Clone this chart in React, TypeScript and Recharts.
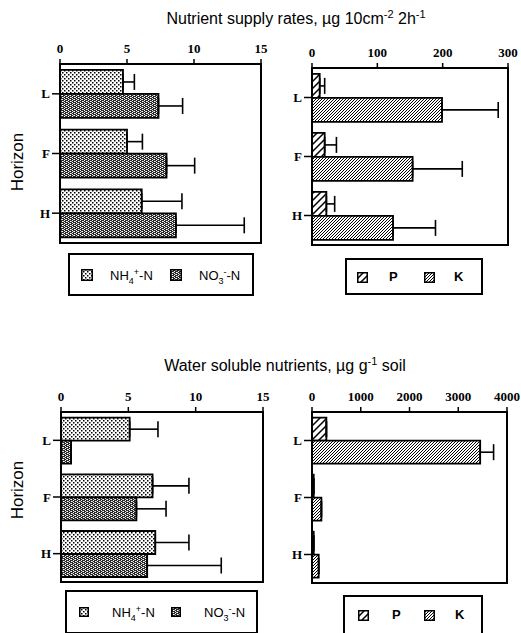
import React from "react";
import { BarChart, Bar, XAxis, YAxis, ErrorBar, ReferenceArea } from "recharts";

const horizons = ["L", "F", "H"];

// nutrient supply rates, ug 10cm-2 2h-1 (error = upper whisker length)
const supplyNH4 = [4.7, 5.0, 6.1];
const supplyNH4Err = [0.85, 1.15, 3.0];
const supplyNO3 = [7.35, 7.95, 8.65];
const supplyNO3Err = [1.8, 2.1, 5.1];
const supplyP = [11.8, 19.4, 22];
const supplyPErr = [7.6, 18, 12.7];
const supplyK = [199, 154, 124];
const supplyKErr = [86, 76, 65];

// water soluble nutrients, ug g-1 soil
const solubleNH4 = [5.1, 6.8, 7.0];
const solubleNH4Err = [2.1, 2.7, 2.5];
const solubleNO3 = [0.75, 5.6, 6.4];
const solubleNO3Err = [0, 2.2, 5.5];
const solubleP = [295, 35, 35];
const solublePErr = [0, 0, 0];
const solubleK = [3450, 193, 137];
const solubleKErr = [275, 0, 0];

const nTicks = [0, 5, 10, 15];
const supplyPKTicks = [0, 100, 200, 300];
const solublePKTicks = [0, 1000, 2000, 3000, 4000];

const makeRows = (a: number[], aErr: number[], b: number[], bErr: number[]) =>
  horizons.map((h, i) => ({
    horizon: h,
    a: a[i],
    aErr: [0, aErr[i]],
    b: b[i],
    bErr: [0, bErr[i]],
  }));

const tickFont = { fontFamily: "Liberation Serif", fontWeight: 700, fontSize: 13, fill: "#000" };

function Panel({ rows, ticks, fills, rect }: any) {
  const yw = 40;
  const xh = 30;
  const rp = 22;
  const w = rect.w + yw + rp;
  const h = rect.h + xh + 4;
  const max = ticks[ticks.length - 1];
  return (
    <div style={{ position: "absolute", left: rect.x - yw, top: rect.y - xh }}>
      <BarChart
        layout="vertical"
        data={rows}
        width={w}
        height={h}
        margin={{ top: 0, left: 0, right: rp, bottom: 4 }}
        barCategoryGap="10%"
        barGap={0}
      >
        <XAxis
          type="number"
          orientation="top"
          domain={[0, max]}
          ticks={ticks}
          interval={0}
          height={xh}
          tickSize={5}
          tickMargin={6}
          tick={tickFont}
          axisLine={{ stroke: "#000", strokeWidth: 2 }}
          tickLine={{ stroke: "#000", strokeWidth: 1.5 }}
          allowDataOverflow
        />
        <YAxis
          type="category"
          dataKey="horizon"
          width={yw}
          tickSize={8}
          tickMargin={2}
          tick={tickFont}
          axisLine={{ stroke: "#000", strokeWidth: 2 }}
          tickLine={{ stroke: "#000", strokeWidth: 1.5 }}
        />
        <ReferenceArea x1={0} x2={max} fill="none" stroke="#000" strokeWidth={2} fillOpacity={0} />
        <Bar dataKey="a" fill={fills[0]} stroke="#000" strokeWidth={1.8} isAnimationActive={false}>
          <ErrorBar dataKey="aErr" direction="x" width={8} stroke="#000" strokeWidth={1.6} isAnimationActive={false} />
        </Bar>
        <Bar dataKey="b" fill={fills[1]} stroke="#000" strokeWidth={1.8} isAnimationActive={false}>
          <ErrorBar dataKey="bErr" direction="x" width={8} stroke="#000" strokeWidth={1.6} isAnimationActive={false} />
        </Bar>
      </BarChart>
    </div>
  );
}

function Swatch({ fill, size }: any) {
  return (
    <svg width={size} height={size} style={{ display: "block" }}>
      <rect x={0.75} y={0.75} width={size - 1.5} height={size - 1.5} fill={fill} stroke="#000" strokeWidth={1.5} />
    </svg>
  );
}

const legendText = { fontFamily: "Liberation Sans", fontSize: 13, color: "#000", position: "absolute" as const };

function NLegend({ box, sw }: any) {
  return (
    <div style={{ position: "absolute", left: box.x, top: box.y, width: box.w, height: box.h, border: "2px solid #000", boxSizing: "border-box" }}>
      <div style={{ position: "absolute", left: box.s1 - box.x, top: box.h / 2 - sw / 2 - 2 }}><Swatch fill="url(#nh4)" size={sw} /></div>
      <div style={{ ...legendText, left: box.t1 - box.x, top: box.h / 2 - 10 }}>
        NH<sub style={{ fontSize: 9 }}>4</sub><sup style={{ fontSize: 9 }}>+</sup>-N
      </div>
      <div style={{ position: "absolute", left: box.s2 - box.x, top: box.h / 2 - sw / 2 - 2 }}><Swatch fill="url(#no3)" size={sw} /></div>
      <div style={{ ...legendText, left: box.t2 - box.x, top: box.h / 2 - 10 }}>
        NO<sub style={{ fontSize: 9 }}>3</sub><sup style={{ fontSize: 9 }}>-</sup>-N
      </div>
    </div>
  );
}

function PKLegend({ box }: any) {
  return (
    <div style={{ position: "absolute", left: box.x, top: box.y, width: box.w, height: box.h, border: "2px solid #000", boxSizing: "border-box" }}>
      <div style={{ position: "absolute", left: box.s1 - box.x, top: box.h / 2 - 7 }}><Swatch fill="url(#pHatch)" size={11} /></div>
      <div style={{ ...legendText, fontWeight: 700, left: box.t1 - box.x, top: box.h / 2 - 10 }}>P</div>
      <div style={{ position: "absolute", left: box.s2 - box.x, top: box.h / 2 - 7 }}><Swatch fill="url(#kHatch)" size={11} /></div>
      <div style={{ ...legendText, fontWeight: 700, left: box.t2 - box.x, top: box.h / 2 - 10 }}>K</div>
    </div>
  );
}

const titleStyle = {
  position: "absolute" as const,
  width: 400,
  textAlign: "center" as const,
  fontFamily: "Liberation Sans",
  fontSize: 16,
  color: "#000",
  whiteSpace: "nowrap" as const,
};

const supStyle = { fontSize: 11, verticalAlign: "super", lineHeight: 0 };

function Horizon({ cy }: any) {
  return (
    <div
      style={{
        position: "absolute",
        left: 18 - 40,
        top: cy - 10,
        width: 80,
        height: 20,
        lineHeight: "20px",
        textAlign: "center",
        transform: "rotate(-90deg)",
        fontFamily: "Liberation Sans",
        fontSize: 17,
        color: "#000",
      }}
    >
      Horizon
    </div>
  );
}

export default function App() {
  const supplyN = makeRows(supplyNH4, supplyNH4Err, supplyNO3, supplyNO3Err);
  const supplyPK = makeRows(supplyP, supplyPErr, supplyK, supplyKErr);
  const solubleN = makeRows(solubleNH4, solubleNH4Err, solubleNO3, solubleNO3Err);
  const solublePK = makeRows(solubleP, solublePErr, solubleK, solubleKErr);

  return (
    <div style={{ position: "absolute", left: 0, top: 0, width: 521, height: 633, background: "#fff", overflow: "hidden" }}>
      <svg width={0} height={0} style={{ position: "absolute" }}>
        <defs>
          <pattern id="nh4" width={4} height={4} patternUnits="userSpaceOnUse">
            <rect width={4} height={4} fill="#fff" />
            <rect x={0} y={0} width={1.5} height={1.5} fill="#000" />
            <rect x={2} y={2} width={1.5} height={1.5} fill="#000" />
          </pattern>
          <pattern id="no3" width={4} height={4} patternUnits="userSpaceOnUse">
            <rect width={4} height={4} fill="#2a2a2a" />
            <rect x={0} y={0} width={1} height={1} fill="#fff" />
            <rect x={2} y={1} width={1} height={1} fill="#fff" />
            <rect x={0} y={2} width={1} height={1} fill="#fff" />
            <rect x={2} y={3} width={1} height={1} fill="#fff" />
            <rect x={1} y={1} width={1} height={1} fill="#bbb" />
            <rect x={3} y={3} width={1} height={1} fill="#bbb" />
          </pattern>
          <pattern id="pHatch" width={7} height={7} patternUnits="userSpaceOnUse">
            <rect width={7} height={7} fill="#fff" />
            <path d="M-1,1 L1,-1 M0,7 L7,0 M6,8 L8,6" stroke="#000" strokeWidth={1.5} />
          </pattern>
          <pattern id="kHatch" width={3} height={3} patternUnits="userSpaceOnUse">
            <rect width={3} height={3} fill="#fff" />
            <path d="M-1,1 L1,-1 M0,3 L3,0 M2,4 L4,2" stroke="#000" strokeWidth={1} />
          </pattern>
        </defs>
      </svg>

      <div style={{ ...titleStyle, left: 296 - 200, top: 10 }}>
        Nutrient supply rates, µg 10cm<span style={supStyle}>-2</span> 2h<span style={supStyle}>-1</span>
      </div>
      <div style={{ ...titleStyle, left: 285 - 200, top: 357 }}>
        Water soluble nutrients, µg g<span style={supStyle}>-1</span> soil
      </div>

      <Horizon cy={162} />
      <Horizon cy={490} />

      <Panel rows={supplyN} ticks={nTicks} fills={["url(#nh4)", "url(#no3)"]} rect={{ x: 60, y: 64, w: 201, h: 179 }} />
      <Panel rows={supplyPK} ticks={supplyPKTicks} fills={["url(#pHatch)", "url(#kHatch)"]} rect={{ x: 312, y: 68, w: 196, h: 177 }} />
      <Panel rows={solubleN} ticks={nTicks} fills={["url(#nh4)", "url(#no3)"]} rect={{ x: 61, y: 412, w: 202, h: 170 }} />
      <Panel rows={solublePK} ticks={solublePKTicks} fills={["url(#pHatch)", "url(#kHatch)"]} rect={{ x: 312, y: 412, w: 195, h: 171 }} />

      <NLegend sw={12} box={{ x: 68, y: 253, w: 186, h: 43, s1: 79, t1: 108, s2: 168, t2: 197 }} />
      <PKLegend box={{ x: 345, y: 258, w: 138, h: 37, s1: 355, t1: 387, s2: 422, t2: 452 }} />
      <NLegend sw={10} box={{ x: 65, y: 590, w: 193, h: 44, s1: 77, t1: 110, s2: 169, t2: 202 }} />
      <PKLegend box={{ x: 343, y: 595, w: 140, h: 40, s1: 356, t1: 390, s2: 422, t2: 453 }} />
    </div>
  );
}
